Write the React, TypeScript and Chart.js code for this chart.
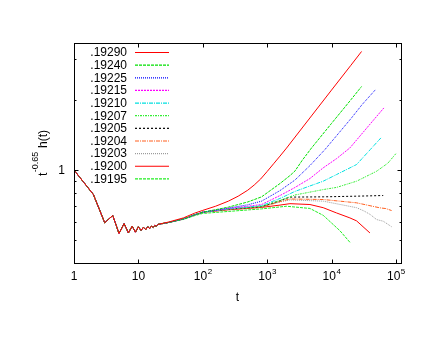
import React, { useEffect, useRef } from "react";
import { Chart, registerables } from "chart.js";

Chart.register(...registerables);

// ---------- data ----------
const LABELS = [".19290", ".19240", ".19225", ".19215", ".19210", ".19207", ".19205", ".19204", ".19203", ".19200", ".19195"];
const COLORS = ["#ff0000", "#00e000", "#0000ff", "#ff00ff", "#00e0e0", "#33ee33", "#000000", "#ff6020", "#9a9a9a", "#ff0000", "#22ee22"];
const DASHES: number[][] = [[], [3, 1], [1, 1], [2, 1], [4, 1, 1, 1], [2, 1, 1, 1], [2, 2], [4, 1, 1, 1], [1, 1], [], [3, 1]];

// shared early part (t = 1..20)
const EARLY_T = [1, 2, 3, 4, 5, 6, 7, 8, 9, 10, 11, 12, 13, 14, 15, 16, 17, 18, 19, 20];
const EARLY_V = [1.0, 0.786, 0.595, 0.639, 0.535, 0.59, 0.538, 0.575, 0.542, 0.572, 0.551, 0.569, 0.556, 0.572, 0.562, 0.576, 0.568, 0.58, 0.574, 0.585];

const T_19290 = [30, 50, 75, 100, 158, 250, 355, 500, 630, 794, 1000, 1259, 1585, 2000, 5000, 10000, 20000, 29300];
const V_19290 = [0.6, 0.624, 0.654, 0.672, 0.7, 0.736, 0.773, 0.82, 0.863, 0.916, 0.986, 1.064, 1.148, 1.242, 1.72, 2.2, 2.81, 3.22];

const T_19240 = [30, 50, 75, 100, 250, 500, 820, 1585, 2260, 2700, 3500, 4900, 10000, 20000, 29300];
const V_19240 = [0.597, 0.617, 0.643, 0.66, 0.694, 0.73, 0.768, 0.876, 0.947, 0.99, 1.1, 1.244, 1.584, 2.0, 2.28];

const T_19225 = [30, 50, 75, 100, 250, 500, 820, 1585, 2700, 4620, 7900, 20000, 30000, 48900];
const V_19225 = [0.597, 0.617, 0.643, 0.66, 0.688, 0.71, 0.736, 0.817, 0.906, 1.045, 1.224, 1.66, 1.91, 2.22];

const T_19215 = [30, 50, 75, 100, 250, 500, 820, 1585, 2700, 4620, 7430, 12000, 19300, 40000, 65000];
const V_19215 = [0.597, 0.617, 0.643, 0.66, 0.685, 0.7, 0.712, 0.778, 0.842, 0.92, 1.022, 1.12, 1.244, 1.577, 1.845];

const T_19210 = [30, 50, 75, 100, 250, 820, 1585, 2700, 4620, 7430, 12000, 24500, 40000, 58500];
const V_19210 = [0.597, 0.617, 0.643, 0.66, 0.682, 0.704, 0.756, 0.81, 0.855, 0.896, 0.957, 1.056, 1.224, 1.373];

const T_19207 = [30, 50, 75, 100, 250, 820, 1585, 2700, 7430, 12000, 24500, 50000, 75000, 100000];
const V_19207 = [0.597, 0.617, 0.643, 0.66, 0.68, 0.7, 0.741, 0.782, 0.825, 0.843, 0.896, 0.988, 1.07, 1.176];

const T_19205 = [30, 50, 75, 100, 250, 820, 1585, 2260, 7430, 24500, 63500];
const V_19205 = [0.597, 0.617, 0.643, 0.66, 0.68, 0.697, 0.74, 0.766, 0.768, 0.773, 0.778];

const T_19204 = [30, 50, 75, 100, 250, 820, 1585, 2260, 7430, 24500, 56500, 70000, 85700];
const V_19204 = [0.597, 0.617, 0.643, 0.66, 0.678, 0.694, 0.733, 0.752, 0.748, 0.724, 0.689, 0.684, 0.671];

const T_19203 = [30, 50, 75, 100, 250, 820, 1585, 2260, 7430, 24500, 32000, 40000, 50000, 63500, 85700];
const V_19203 = [0.597, 0.617, 0.643, 0.66, 0.678, 0.694, 0.73, 0.745, 0.736, 0.69, 0.668, 0.645, 0.614, 0.604, 0.572];

const T_19200 = [30, 50, 75, 100, 250, 820, 1585, 2260, 4620, 7430, 12000, 19300, 24500, 39500];
const V_19200 = [0.597, 0.617, 0.643, 0.66, 0.676, 0.692, 0.708, 0.718, 0.712, 0.69, 0.655, 0.624, 0.606, 0.538];

const T_19195 = [30, 50, 75, 100, 250, 820, 2000, 4620, 7430, 13500, 19500];
const V_19195 = [0.597, 0.615, 0.638, 0.652, 0.665, 0.682, 0.7, 0.685, 0.64, 0.55, 0.489];

const LATE_T = [T_19290, T_19240, T_19225, T_19215, T_19210, T_19207, T_19205, T_19204, T_19203, T_19200, T_19195];
const LATE_V = [V_19290, V_19240, V_19225, V_19215, V_19210, V_19207, V_19205, V_19204, V_19203, V_19200, V_19195];

// axes
const X_MIN = 1;
const X_MAX = 120000;
const Y_MIN = 0.4;
const Y_MAX = 3.5;
const X_TICKS = [1, 10, 100, 1000, 10000, 100000];
const X_TICK_BASE = ["1", "10", "10", "10", "10", "10"];
const X_TICK_EXP = ["", "", "2", "3", "4", "5"];
const Y_MAJOR = [1];
const Y_MAJOR_LABELS = ["1"];
const Y_MINOR = [0.5, 0.6, 0.7, 0.8, 0.9, 2, 3];

const FONT = '"Liberation Sans", Arial, sans-serif';

const gnuPlugin = {
  id: "gnuframe",
  afterDatasetsDraw(chart: any) {
    const { ctx, chartArea: a, scales } = chart;
    const xs = scales.x;
    const ys = scales.y;
    const L = Math.round(a.left) + 0.5;
    const R = Math.round(a.right) + 0.5;
    const T = Math.round(a.top) + 0.5;
    const B = Math.round(a.bottom) + 0.5;
    ctx.save();
    ctx.strokeStyle = "#000";
    ctx.lineWidth = 1;
    ctx.setLineDash([]);
    ctx.strokeRect(L, T, R - L, B - T);

    ctx.beginPath();
    X_TICKS.forEach((v) => {
      const px = Math.round(xs.getPixelForValue(v)) + 0.5;
      ctx.moveTo(px, B);
      ctx.lineTo(px, B - 4);
      ctx.moveTo(px, T);
      ctx.lineTo(px, T + 4);
    });
    Y_MAJOR.forEach((v) => {
      const py = Math.round(ys.getPixelForValue(v)) + 0.5;
      ctx.moveTo(L, py);
      ctx.lineTo(L + 4, py);
      ctx.moveTo(R, py);
      ctx.lineTo(R - 4, py);
    });
    Y_MINOR.forEach((v) => {
      const py = Math.round(ys.getPixelForValue(v)) + 0.5;
      ctx.moveTo(L, py);
      ctx.lineTo(L + 2, py);
      ctx.moveTo(R, py);
      ctx.lineTo(R - 2, py);
    });
    ctx.stroke();

    // x tick labels
    ctx.fillStyle = "#000";
    ctx.textBaseline = "alphabetic";
    ctx.textAlign = "left";
    X_TICKS.forEach((v, i) => {
      const px = xs.getPixelForValue(v);
      ctx.font = `12px ${FONT}`;
      const wb = ctx.measureText(X_TICK_BASE[i]).width;
      ctx.font = `8px ${FONT}`;
      const we = X_TICK_EXP[i] ? ctx.measureText(X_TICK_EXP[i]).width : 0;
      const start = px - (wb + we) / 2;
      ctx.font = `12px ${FONT}`;
      ctx.fillText(X_TICK_BASE[i], start, 280);
      if (X_TICK_EXP[i]) {
        ctx.font = `8px ${FONT}`;
        ctx.fillText(X_TICK_EXP[i], start + wb + 0.5, 273.5);
      }
    });

    // y tick labels
    ctx.font = `12px ${FONT}`;
    ctx.textAlign = "right";
    ctx.textBaseline = "middle";
    Y_MAJOR.forEach((v, i) => {
      ctx.fillText(Y_MAJOR_LABELS[i], a.left - 9, ys.getPixelForValue(v) + 0.5);
    });

    // x title
    ctx.textAlign = "center";
    ctx.textBaseline = "alphabetic";
    ctx.fillText("t", (a.left + a.right) / 2, 301);

    // y title (rotated)
    ctx.save();
    const cy = (a.top + a.bottom) / 2;
    ctx.font = `12px ${FONT}`;
    const w1 = ctx.measureText("t").width;
    const w3 = ctx.measureText(" h(t)").width;
    ctx.font = `9px ${FONT}`;
    const w2 = ctx.measureText("-0.65").width;
    const total = w1 + w2 + w3 + 1;
    ctx.translate(46.5, cy + total / 2);
    ctx.rotate(-Math.PI / 2);
    ctx.textAlign = "left";
    ctx.font = `12px ${FONT}`;
    ctx.fillText("t", 0, 0);
    ctx.font = `9px ${FONT}`;
    ctx.fillText("-0.65", w1 + 0.5, -9);
    ctx.font = `12px ${FONT}`;
    ctx.fillText(" h(t)", w1 + w2 + 1, 0);
    ctx.restore();

    // legend
    ctx.font = `12px ${FONT}`;
    ctx.textAlign = "right";
    ctx.textBaseline = "middle";
    chart.data.datasets.forEach((ds: any, i: number) => {
      const y = 52.5 + i * 12.64;
      ctx.fillStyle = "#000";
      ctx.fillText(ds.label, 127, y + 0.5);
      ctx.strokeStyle = ds.borderColor;
      ctx.lineWidth = 1.2;
      ctx.setLineDash(ds.borderDash || []);
      ctx.beginPath();
      ctx.moveTo(135, y);
      ctx.lineTo(169, y);
      ctx.stroke();
    });
    ctx.restore();
  },
};

export default function App() {
  const ref = useRef<HTMLCanvasElement | null>(null);

  useEffect(() => {
    document.body.style.margin = "0";
    const canvas = ref.current;
    if (!canvas) return;
    const datasets = LABELS.map((label, i) => {
      const pts = EARLY_T.map((t, k) => ({ x: t, y: EARLY_V[k] })).concat(
        LATE_T[i].map((t, k) => ({ x: t, y: LATE_V[i][k] }))
      );
      return {
        label,
        data: pts,
        borderColor: COLORS[i],
        backgroundColor: COLORS[i],
        borderWidth: 1,
        borderDash: DASHES[i],
        pointRadius: 0,
        tension: 0,
        fill: false,
      };
    });
    const chart = new Chart(canvas, {
      type: "line",
      data: { datasets },
      options: {
        animation: false,
        responsive: false,
        devicePixelRatio: 1,
        parsing: false as any,
        layout: { padding: { left: 74, top: 43, right: 35, bottom: 74 } },
        plugins: { legend: { display: false }, tooltip: { enabled: false } },
        scales: {
          x: { type: "logarithmic", min: X_MIN, max: X_MAX, display: false },
          y: { type: "logarithmic", min: Y_MIN, max: Y_MAX, display: false },
        },
      },
      plugins: [gnuPlugin],
    });
    return () => chart.destroy();
  }, []);

  return (
    <div style={{ position: "fixed", left: 0, top: 0, width: 436, height: 337, background: "#fff" }}>
      <canvas ref={ref} width={436} height={337} style={{ width: 436, height: 337, display: "block" }} />
    </div>
  );
}
